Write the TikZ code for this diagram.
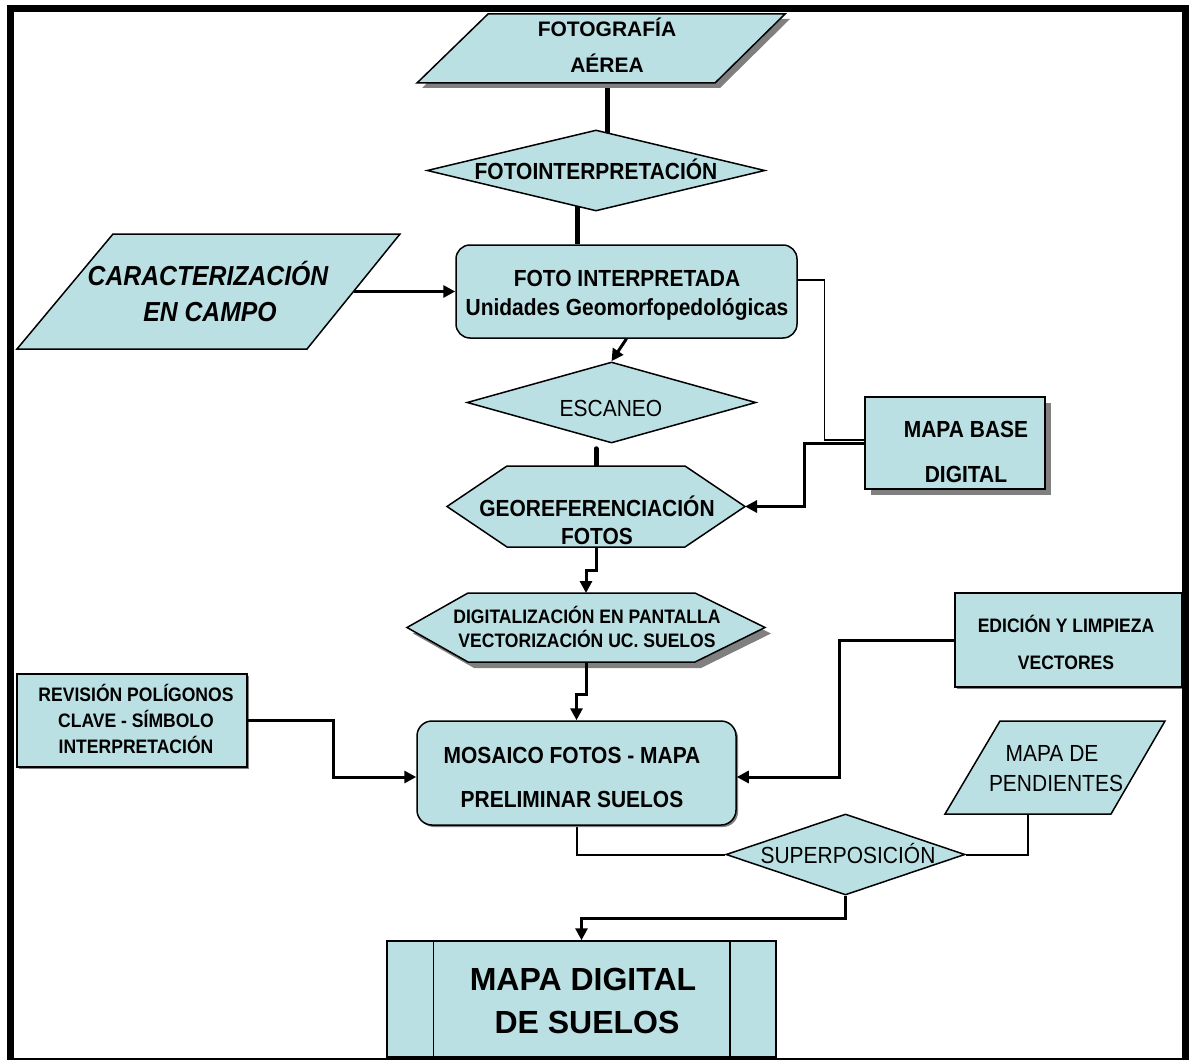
\documentclass[tikz,border=0pt]{standalone}
\usepackage{fontspec}
\setmainfont{Liberation Sans}
\newfontfamily\narrowsans[FakeStretch=0.9]{Liberation Sans}
\usetikzlibrary{arrows.meta,shapes.geometric,calc,shadows,backgrounds}
\definecolor{boxfill}{HTML}{BBE0E3}
\definecolor{shadowgray}{HTML}{808080}
\begin{document}
\begin{tikzpicture}[x=1pt,y=-1pt,
  shapebox/.style={draw=black, line width=1.5pt, fill=boxfill},
  ghost/.style={inner sep=0pt, outer sep=0pt, draw=none},
  shadefill/.style={fill=shadowgray, draw=none},
  bigshadow/.style={drop shadow={shadow xshift=6pt, shadow yshift=-6pt, fill=shadowgray, opacity=1}},
  smallshadow/.style={drop shadow={shadow xshift=2pt, shadow yshift=-2pt, fill=shadowgray, opacity=1}},
  thickline/.style={line width=5pt},
  conn/.style={line width=3pt, -{Triangle[length=12pt,width=12pt]}},
  thinline/.style={line width=1.5pt},
  midline/.style={line width=2pt},
  toptxt/.style={anchor=base, inner sep=0pt, font=\fontsize{21}{25}\selectfont\bfseries},
  bigtxt/.style={anchor=base, inner sep=0pt, font=\narrowsans\fontsize{23.3}{28}\selectfont\bfseries},
  regtxt/.style={anchor=base, inner sep=0pt, font=\narrowsans\fontsize{23.3}{28}\selectfont},
  smalltxt/.style={anchor=base, inner sep=0pt, font=\narrowsans\fontsize{19.5}{23}\selectfont\bfseries},
  hugetxt/.style={anchor=base, inner sep=0pt, font=\fontsize{32}{38}\selectfont\bfseries},
  itxt/.style={anchor=base, inner sep=0pt, font=\narrowsans\fontsize{27.5}{32}\selectfont\bfseries\itshape}
]
\useasboundingbox (0,0) rectangle (1192,1062);

% ---------- shapes ----------
% FOTOGRAFIA AEREA
\fill[shadefill,shift={(5,5)}] (488,14) -- (785,14) -- (715,83) -- (417,83) -- cycle;
\draw[shapebox] (488,14) -- (785,14) -- (715,83) -- (417,83) -- cycle;
\node[ghost, minimum width=368pt, minimum height=69pt] (fa) at (601,48.5) {};
\node[toptxt] (fa1) at (607,37) {FOTOGRAFÍA};
\node[toptxt] (fa2) at (607,73) {AÉREA};

% FOTOINTERPRETACION
\node[shapebox, diamond, inner sep=0pt, minimum width=338pt, minimum height=81pt] (fi) at (596,170.5) {};
\node[bigtxt] (fi1) at (596,180) {FOTOINTERPRETACIÓN};

% FOTO INTERPRETADA
\node[shapebox, rounded corners=14pt, inner sep=0pt, minimum width=341pt, minimum height=93pt] (fo) at (626.5,291.5) {};
\node[bigtxt] (fo1) at (627,286) {FOTO INTERPRETADA};
\node[bigtxt] (fo2) at (627,315) {Unidades Geomorfopedológicas};

% CARACTERIZACION EN CAMPO
\draw[shapebox] (113,234) -- (400,234) -- (307,349) -- (17,349) -- cycle;
\node[ghost, minimum width=383pt, minimum height=115pt] (car) at (208.5,291.5) {};
\node[itxt] (car1) at (208,285) {CARACTERIZACIÓN};
\node[itxt] (car2) at (210,321) {EN CAMPO};

% ESCANEO
\node[shapebox, diamond, inner sep=0pt, minimum width=289pt, minimum height=81pt] (esc) at (611.5,402.5) {};
\node[regtxt] (esc1) at (611,416) {ESCANEO};

% GEOREFERENCIACION
\draw[shapebox] (507,466) -- (685,466) -- (745,506.5) -- (685,547) -- (507,547) -- (447,506.5) -- cycle;
\node[ghost, minimum width=298pt, minimum height=81pt] (geo) at (596,506.5) {};
\node[bigtxt] (geo1) at (597,516) {GEOREFERENCIACIÓN};
\node[bigtxt] (geo2) at (597,544) {FOTOS};

% MAPA BASE DIGITAL
\node[shapebox, bigshadow, inner sep=0pt, minimum width=180pt, minimum height=92pt] (mb) at (955,443) {};
\node[bigtxt] (mb1) at (966,437) {MAPA BASE};
\node[bigtxt] (mb2) at (966,482) {DIGITAL};

% DIGITALIZACION
\fill[shadefill,shift={(6,6)}] (468,593) -- (695,593) -- (765,627.5) -- (695,662) -- (468,662) -- (407,627.5) -- cycle;
\draw[shapebox] (468,593) -- (695,593) -- (765,627.5) -- (695,662) -- (468,662) -- (407,627.5) -- cycle;
\node[ghost, minimum width=358pt, minimum height=69pt] (dig) at (586,627.5) {};
\node[smalltxt] (dig1) at (587,623) {DIGITALIZACIÓN EN PANTALLA};
\node[smalltxt] (dig2) at (587,647) {VECTORIZACIÓN UC. SUELOS};

% MOSAICO
\node[shapebox, smallshadow, rounded corners=15pt, inner sep=0pt, minimum width=319pt, minimum height=104pt] (mos) at (576.5,773) {};
\node[bigtxt] (mos1) at (572,763) {MOSAICO FOTOS - MAPA};
\node[bigtxt] (mos2) at (572,807) {PRELIMINAR SUELOS};

% REVISION
\node[shapebox, smallshadow, inner sep=0pt, minimum width=230pt, minimum height=93pt] (rev) at (132,720.5) {};
\node[smalltxt] (rev1) at (136,701) {REVISIÓN POLÍGONOS};
\node[smalltxt] (rev2) at (136,727) {CLAVE - SÍMBOLO};
\node[smalltxt] (rev3) at (136,753) {INTERPRETACIÓN};

% EDICION
\node[shapebox, smallshadow, inner sep=0pt, minimum width=227pt, minimum height=94pt] (ed) at (1068.5,640) {};
\node[smalltxt] (ed1) at (1066,632) {EDICIÓN Y LIMPIEZA};
\node[smalltxt] (ed2) at (1066,669) {VECTORES};

% MAPA DE PENDIENTES
\draw[shapebox] (1000,721) -- (1165,721) -- (1111,814) -- (945,814) -- cycle;
\node[ghost, minimum width=220pt, minimum height=93pt] (pend) at (1055,767.5) {};
\node[regtxt] (pend1) at (1052,761) {MAPA DE};
\node[regtxt] (pend2) at (1056,791) {PENDIENTES};

% SUPERPOSICION
\node[shapebox, diamond, inner sep=0pt, minimum width=239pt, minimum height=81pt] (sup) at (845.5,854.5) {};
\node[regtxt] (sup1) at (848,863) {SUPERPOSICIÓN};

% MAPA DIGITAL DE SUELOS
\node[shapebox, inner sep=0pt, minimum width=389pt, minimum height=116pt] (md) at (581.5,999) {};
\draw[line width=1.5pt] ([xshift=47pt]md.north west) -- ([xshift=47pt]md.south west);
\draw[line width=1.5pt] ([xshift=-47pt]md.north east) -- ([xshift=-47pt]md.south east);
\node[hugetxt] (md1) at (583,990) {MAPA DIGITAL};
\node[hugetxt] (md2) at (587,1033) {DE SUELOS};

% ---------- connectors ----------
\begin{pgfonlayer}{background}
\fill[white] (0,0) rectangle (1192,1062);
\draw[thickline] ([xshift=6pt]fa.south) -- ([xshift=6pt,yshift=-8pt]fa.south |- fi.north);
\draw[thickline] ([xshift=-19pt,yshift=10pt]fi.south) -- ([xshift=-19pt]fi.south |- fo.north);
\draw[thickline, line cap=round] ([yshift=-5pt]esc.south -| geo.north) -- (geo.north);
\draw[thinline] ([yshift=11.5pt]fo.east) -| ([xshift=-40pt,yshift=3pt]mb.west) -- ([yshift=3pt]mb.west);
\draw[midline] (mos.south) |- (sup.west);
\draw[midline] ([xshift=-27pt]pend.south) |- (sup.east);
\end{pgfonlayer}
\draw[conn] ([xshift=-46.5pt]car.east) -- (fo.west);
\draw[conn] (fo.south) -- (esc.north);
\draw[conn] (mb.west) -- ++(-60,0) |- (geo.east);
\draw[conn] (geo.south) -- ++(0,23) -| (dig.north);
\draw[conn] (dig.south) -- ++(0,32) -| (mos.north);
\draw[conn] (rev.east) -- ++(86,0) |- ([yshift=-4pt]mos.west);
\draw[conn] (ed.west) -- ++(-115,0) |- ([yshift=-4pt]mos.east);
\draw[conn] (sup.south) -- ++(0,23) -| (md.north);

% ---------- frame ----------
\draw[line width=7pt] (10.5,1059) -- (10.5,9) -- (1185.5,9) -- (1185.5,1059);
\draw[line width=2pt] (7,1059) -- (1189,1059);
\end{tikzpicture}
\end{document}
